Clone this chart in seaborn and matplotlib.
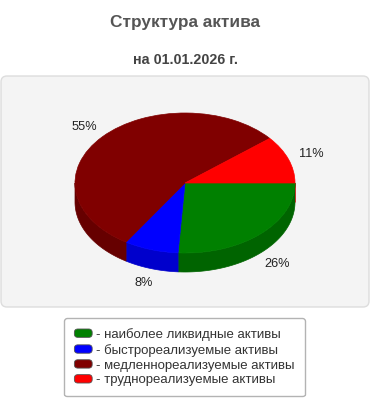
import numpy as np
import matplotlib
matplotlib.use("Agg")
import matplotlib.pyplot as plt
import seaborn as sns
from matplotlib.patches import FancyBboxPatch, Patch
from matplotlib.legend_handler import HandlerPatch

sns.set_theme(style="white")
plt.rcParams['font.family'] = ['Liberation Sans', 'DejaVu Sans']

# ---- data ----
title = "Структура актива"
subtitle = "на 01.01.2026 г."
categories = ["наиболее ликвидные активы", "быстрореализуемые активы",
              "медленнореализуемые активы", "труднореализуемые активы"]
values = [26, 8, 55, 11]
top_colors = ["#008000", "#0000FF", "#800000", "#FF0000"]
side_colors = ["#006400", "#0000CC", "#660000", "#CC0000"]

fig = plt.figure(figsize=(3.7, 4.0), dpi=100)
W, H = 370, 400

# plot area background (rounded box), pixel coords -> inches
bx0, by0, bx1, by1 = 1, 76, 369, 307
bg = FancyBboxPatch((bx0 / 100, (H - by1) / 100), (bx1 - bx0) / 100, (by1 - by0) / 100,
                    boxstyle="round,pad=0,rounding_size=0.06",
                    transform=fig.dpi_scale_trans, facecolor="#F4F4F4",
                    edgecolor="#DDDDDD", linewidth=1.0, zorder=0)
fig.add_artist(bg)

# pie axes: pixel extent
cx, cy, rx, ry, depth_px = 185, 183, 110, 70, 19
ax_l, ax_r, ax_t, ax_b = 35, 335, 83, 303
ax = fig.add_axes([ax_l / W, 1 - ax_b / H, (ax_r - ax_l) / W, (ax_b - ax_t) / H])
ax.patch.set_alpha(0)

depth = depth_px / ry
fracs = np.array(values, dtype=float) / np.sum(values)
starts = -360 * np.concatenate([[0], np.cumsum(fracs)[:-1]])
ends = starts - 360 * fracs

# side bands (front half only)
for s, e, col in zip(starts, ends, side_colors):
    lo, hi = e, s
    for flo, fhi in [(-180, 0), (-540, -360)]:
        a, b = max(lo, flo), min(hi, fhi)
        if b - a <= 0:
            continue
        t = np.radians(np.linspace(a, b, 100))
        xs = np.cos(t)
        ys = np.sin(t)
        px = np.concatenate([xs, xs[::-1]])
        py = np.concatenate([ys, ys[::-1] - depth])
        ax.fill(px, py, facecolor=col, edgecolor=col, linewidth=0.5, zorder=1)

# top of the pie
wedges, _ = ax.pie(values, colors=top_colors, startangle=0, counterclock=False,
                   radius=1, center=(0, 0),
                   wedgeprops=dict(linewidth=0.5, antialiased=True))
for w, c in zip(wedges, top_colors):
    w.set_edgecolor(c)
    w.set_zorder(2)

ax.set_aspect('auto')
ax.set_xlim(-(cx - ax_l) / rx, (ax_r - cx) / rx)
ax.set_ylim(-(ax_b - cy) / ry, (cy - ax_t) / ry)
ax.axis('off')

# percentage labels
R = 1.22
for s, e, v in zip(starts, ends, values):
    m = np.radians((s + e) / 2)
    lx, ly = R * np.cos(m), R * np.sin(m)
    if np.sin(m) < 0:
        ly -= depth
    ax.text(lx, ly, f"{v}%", ha='center', va='center', fontsize=9.2,
            color="#222222", zorder=5)

# titles
fig.text(0.5, 1 - 22 / H, title, ha='center', va='center', fontsize=12.4,
         fontweight='bold', color="#555555")
fig.text(0.5, 1 - 60 / H, subtitle, ha='center', va='center', fontsize=10.3,
         fontweight='bold', color="#444444")


# legend with rounded handles
def rounded_handle(legend, orig_handle, xdescent, ydescent, width, height, fontsize):
    return FancyBboxPatch((-xdescent, -ydescent), width, height,
                          boxstyle="round,pad=0,rounding_size=2.5",
                          mutation_aspect=1)


handles = [Patch(facecolor=c, edgecolor="#555555", linewidth=0.6) for c in top_colors]
labels = ["- " + c for c in categories]
leg = fig.legend(handles, labels, loc='upper center',
                 bbox_to_anchor=(184.5 / W, 1 - 318 / H),
                 fontsize=9.5, frameon=True, fancybox=True,
                 handlelength=1.35, handleheight=0.6, handletextpad=0.3,
                 labelspacing=0.22, borderpad=0.75, borderaxespad=0,
                 handler_map={Patch: HandlerPatch(patch_func=rounded_handle)})
frame = leg.get_frame()
frame.set_edgecolor("#A0A0A0")
frame.set_facecolor("white")
frame.set_linewidth(1.0)
for t in leg.get_texts():
    t.set_color("#333333")

fig.savefig("out.png", dpi=100)
